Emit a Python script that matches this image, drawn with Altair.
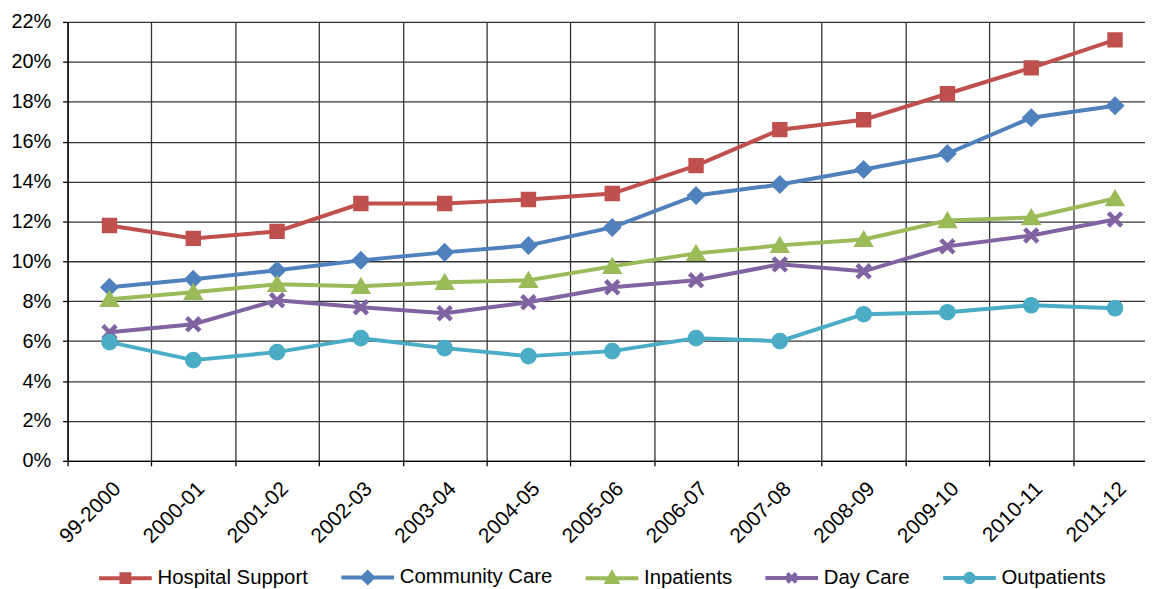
import altair as alt
import pandas as pd

years = ["99-2000", "2000-01", "2001-02", "2002-03", "2003-04", "2004-05", "2005-06",
         "2006-07", "2007-08", "2008-09", "2009-10", "2010-11", "2011-12"]
series = ["Hospital Support", "Community Care", "Inpatients", "Day Care", "Outpatients"]

hospital_support = [11.8, 11.15, 11.5, 12.9, 12.9, 13.1, 13.4, 14.8, 16.6, 17.1, 18.4, 19.7, 21.1]
community_care = [8.7, 9.1, 9.55, 10.05, 10.45, 10.8, 11.7, 13.3, 13.85, 14.6, 15.4, 17.2, 17.8]
inpatients = [8.1, 8.45, 8.85, 8.75, 8.95, 9.05, 9.75, 10.4, 10.8, 11.1, 12.05, 12.2, 13.15]
day_care = [6.45, 6.85, 8.05, 7.7, 7.4, 7.95, 8.7, 9.05, 9.85, 9.5, 10.75, 11.3, 12.1]
outpatients = [5.95, 5.05, 5.45, 6.15, 5.65, 5.25, 5.5, 6.15, 6.0, 7.35, 7.45, 7.8, 7.65]

colors = ["#C0504D", "#4F81BD", "#9BBB59", "#8064A2", "#4BACC6"]

X_POLY = ("M-1,-0.78L-0.78,-1L0,-0.22L0.78,-1L1,-0.78L0.22,0L1,0.78L0.78,1"
          "L0,0.22L-0.78,1L-1,0.78L-0.22,0Z")
# marker shapes (unit paths) for chart points
chart_shapes = [
    "M-1,-1H1V1H-1Z",
    "M0,-1.2L1.2,0L0,1.2L-1.2,0Z",
    "M0,-1.1L1.25,1.0H-1.25Z",
    X_POLY,
    "M1.1,0A1.1,1.1 0 1,1 -1.1,0A1.1,1.1 0 1,1 1.1,0Z",
]
# legend symbols: line segment through a marker
legend_line = "M-5.3,0H5.3"
legend_shapes = [
    legend_line + "M-0.8,-0.8H0.8V0.8H-0.8Z",
    legend_line + "M0,-1.05L1.05,0L0,1.05L-1.05,0Z",
    legend_line + "M0,-1L1,0.8H-1Z",
    legend_line + "M-0.9,-0.9L0.9,0.9M-0.9,0.9L0.9,-0.9",
    legend_line + "M0.85,0A0.85,0.85 0 1,1 -0.85,0A0.85,0.85 0 1,1 0.85,0Z",
]

values = [hospital_support, community_care, inpatients, day_care, outpatients]
rows = []
for s, vals in zip(series, values):
    for y, v in zip(years, vals):
        rows.append({"year": y, "series": s, "value": v / 100.0})
df = pd.DataFrame(rows)

FONT = "Liberation Sans"

x_enc = alt.X(
    "year:N",
    scale=alt.Scale(type="band", domain=years, paddingInner=0, paddingOuter=0, range=[0, 1097]),
    bandPosition=0.5,
    axis=alt.Axis(
        title=None, labelAngle=-45, labelFontSize=21, labelColor="black",
        tickBand="extent", grid=True, gridColor="#333333", gridWidth=1.3,
        domainColor="black", domainWidth=1.3, tickColor="black", tickWidth=1.3,
        tickSize=5, labelPadding=12, labelFont=FONT,
    ),
)
y_enc = alt.Y(
    "value:Q",
    scale=alt.Scale(domain=[0, 0.22], nice=False, zero=True),
    axis=alt.Axis(
        title=None, format=".0%", values=[i / 100 for i in range(0, 23, 2)],
        labelFontSize=20, labelColor="black", labelFont=FONT,
        grid=True, gridColor="#333333", gridWidth=1.3,
        domainColor="black", domainWidth=1.3, tickColor="black", tickWidth=1.3,
        tickSize=5, labelPadding=12,
    ),
)

color_scale = alt.Scale(domain=series, range=colors)

lines = alt.Chart(df).mark_line(strokeWidth=4).encode(
    x=x_enc, y=y_enc,
    color=alt.Color("series:N", scale=color_scale, legend=None),
)

points = alt.Chart(df).mark_point(filled=True, size=169, strokeWidth=2.5, opacity=1).encode(
    x=x_enc, y=y_enc,
    color=alt.Color("series:N", scale=color_scale, legend=None),
    stroke=alt.Stroke("series:N", scale=color_scale, legend=None),
    shape=alt.Shape("series:N", scale=alt.Scale(domain=series, range=chart_shapes), legend=None),
)

leg = alt.Legend(
    title=None, orient="none", direction="horizontal", legendX=48, legendY=549,
    labelFontSize=20.5, labelFont=FONT, labelColor="black", symbolSize=100,
    symbolStrokeWidth=4, symbolOpacity=1, labelOffset=22, columnPadding=24,
    columns=5,
)
legend_layer = alt.Chart(df).mark_point(filled=True, size=0, strokeWidth=4, opacity=0).encode(
    x=x_enc, y=y_enc,
    color=alt.Color("series:N", scale=color_scale, legend=leg),
    stroke=alt.Stroke("series:N", scale=color_scale, legend=leg),
    shape=alt.Shape("series:N", scale=alt.Scale(domain=series, range=legend_shapes), legend=leg),
)

chart = alt.layer(lines, points, legend_layer).resolve_scale(
    color="independent", stroke="independent", shape="independent"
).resolve_legend(
    color="independent", stroke="independent", shape="independent"
).properties(
    width=1085, height=442,
    padding={"left": 60, "top": 12, "right": 0, "bottom": 127},
    autosize=alt.AutoSizeParams(type="none"),
).configure_view(stroke=None).configure(font=FONT, background="white")

chart.save("out.html", embed_options={"renderer": "svg", "actions": False})
